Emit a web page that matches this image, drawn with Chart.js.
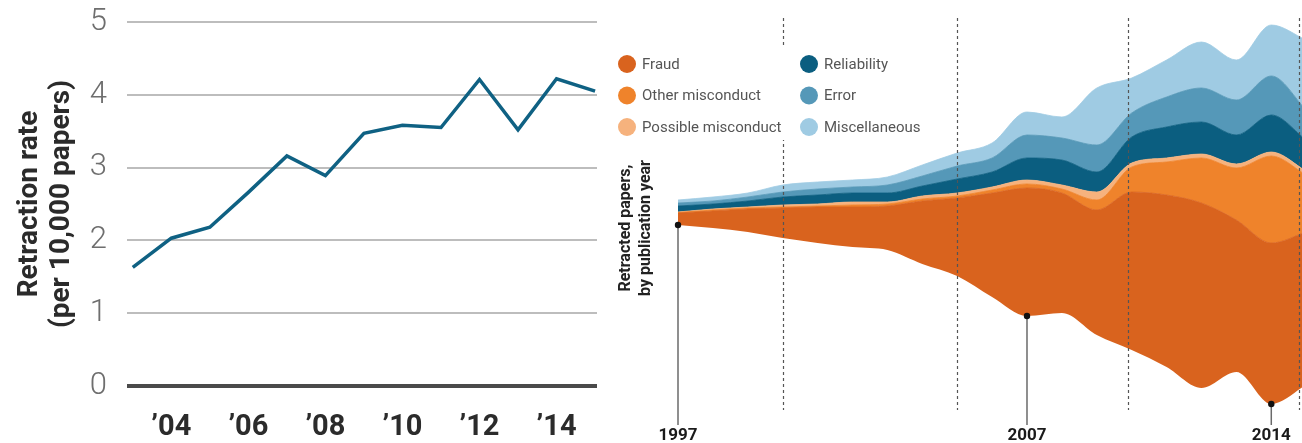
<!DOCTYPE html>
<html>
<head>
<meta charset="utf-8">
<script src="https://cdn.jsdelivr.net/npm/chart.js@4.4.1/dist/chart.umd.min.js"></script>
<style>
  body { margin: 0; background: #fff; }
  #rate { position: absolute; left: 0; top: 0; }
  #stream { position: absolute; left: 600px; top: 0; }
</style>
</head>
<body>
<canvas id="rate" width="600" height="443"></canvas>
<canvas id="stream" width="702" height="443"></canvas>
<script>
const narrow = '"Liberation Sans Narrow", "Roboto", sans-serif';

// left panel: retraction rate per 10,000 papers
const rateYears = [2003, 2004, 2005, 2006, 2007, 2008, 2009, 2010, 2011, 2012, 2013, 2014, 2015];
const rateValues = [1.63, 2.03, 2.18, 2.66, 3.16, 2.89, 3.47, 3.58, 3.55, 4.21, 3.52, 4.22, 4.05];
const rateTicks = [2004, 2006, 2008, 2010, 2012, 2014];

// right panel: retracted papers by publication year (stream layers, bottom to top)
const streamYears = [1997, 1998, 1999, 2000, 2001, 2002, 2003, 2004, 2005, 2006, 2007, 2008, 2009, 2010, 2011, 2012, 2013, 2014, 2015];
const baseline    = [195, 192, 188, 182, 177, 173, 170, 156, 144, 123, 104, 107, 85, 70, 53, 32, 48, 16, 35];
const fraud       = [12, 17, 23, 30, 36, 40, 44, 63, 78, 104, 128, 120, 125, 158, 172, 185, 152, 161, 153];
const otherMisc   = [0.5, 1, 1, 1, 1, 2, 2, 2, 2, 3, 4, 4, 10, 25, 33, 45, 52, 87, 57];
const possible    = [0.5, 1, 1, 2, 2, 3, 2, 3, 3, 3, 4, 4, 8, 4, 4, 4, 4, 4, 4];
const reliability = [6, 5, 6, 8, 9, 9, 9, 10, 14, 15, 22, 25, 20, 26, 31, 32, 29, 37, 31];
const error       = [3, 3, 4, 5, 6, 6, 8, 10, 13, 14, 23, 22, 27, 24, 30, 34, 35, 39, 30];
const miscellaneous = [3, 4, 4, 7, 7, 7, 8, 11, 13, 15, 23, 21, 57, 35, 37, 46, 40, 51, 70];

const layerNames  = ['Fraud', 'Other misconduct', 'Possible misconduct', 'Reliability', 'Error', 'Miscellaneous'];
const layerColors = ['#d9631e', '#ef832b', '#f6b27d', '#0b5e80', '#5598b8', '#9fcbe3'];
const layerValues = [fraud, otherMisc, possible, reliability, error, miscellaneous];

const markerYears = [1997, 2007, 2014];
const guideYears = [2000, 2005, 2009.9, 2014.8];

function pts(xs, ys) {
  return xs.map((x, i) => ({ x: x, y: ys[i] }));
}

// drop the extra room chart.js reserves for tick labels at the ends
function noEndPadding(s) {
  s.paddingTop = 0;
  s.paddingBottom = 0;
  s.paddingLeft = 0;
  s.paddingRight = 0;
}

// ---- left chart ----
new Chart(document.getElementById('rate'), {
  type: 'line',
  data: {
    datasets: [{
      data: pts(rateYears, rateValues),
      borderColor: '#0f6183',
      borderWidth: 3.5,
      pointRadius: 0,
      tension: 0
    }]
  },
  options: {
    responsive: false,
    animation: false,
    devicePixelRatio: 1,
    layout: { padding: { top: 22, right: 3, left: 0, bottom: 0 } },
    plugins: { legend: { display: false }, tooltip: { enabled: false } },
    scales: {
      x: {
        type: 'linear', min: 2002.85, max: 2015.05,
        grid: { display: false }, border: { display: false },
        afterBuildTicks: s => { s.ticks = rateTicks.map(v => ({ value: v })); },
        afterFit: s => { s.height = 57; noEndPadding(s); },
        ticks: {
          padding: 16, color: '#2b2b2b', autoSkip: false, maxRotation: 0,
          font: { family: narrow, size: 29, weight: 'bold' },
          callback: v => '\u2019' + String(v).slice(2)
        }
      },
      y: {
        min: 0, max: 5,
        afterFit: s => { s.width = 127; noEndPadding(s); },
        border: { display: false },
        grid: {
          drawTicks: false,
          color: c => c.tick.value === 0 ? '#4a4a4a' : '#bdbdbd',
          lineWidth: c => c.tick.value === 0 ? 4 : 2
        },
        ticks: { stepSize: 1, padding: 20, color: '#6e6e6e', font: { family: narrow, size: 31, weight: '300' } },
        title: {
          display: true,
          text: ['Retraction rate', '(per 10,000 papers)'],
          color: '#2b2b2b',
          font: { family: narrow, size: 28, weight: 'bold', lineHeight: 1.15 },
          padding: { top: 14, bottom: 0 }
        }
      }
    }
  }
});

// ---- right chart (streamgraph) ----
const streamDecor = {
  id: 'streamDecor',
  afterDatasetsDraw(chart) {
    const ctx = chart.ctx;
    const xs = chart.scales.x, ys = chart.scales.y;
    ctx.save();
    // dashed guide lines
    ctx.strokeStyle = '#555';
    ctx.lineWidth = 1.2;
    ctx.setLineDash([3, 3]);
    guideYears.forEach(g => {
      const x = Math.round(xs.getPixelForValue(g)) + 0.5;
      ctx.beginPath();
      ctx.moveTo(x, 18);
      ctx.lineTo(x, 410);
      ctx.stroke();
    });
    ctx.setLineDash([]);
    // legend box
    ctx.fillStyle = '#fff';
    ctx.fillRect(8, 46, 322, 94);
    ctx.font = '15px ' + narrow;
    ctx.textBaseline = 'middle';
    ctx.textAlign = 'left';
    layerNames.forEach((name, i) => {
      const col = Math.floor(i / 3), row = i % 3;
      const cx = 27 + col * 182, cy = 64 + row * 31.5;
      ctx.fillStyle = layerColors[i];
      ctx.beginPath();
      ctx.arc(cx, cy, 9, 0, Math.PI * 2);
      ctx.fill();
      ctx.fillStyle = '#555';
      ctx.fillText(name, cx + 15, cy + 1);
    });
    // axis title
    ctx.save();
    ctx.translate(33, 228);
    ctx.rotate(-Math.PI / 2);
    ctx.fillStyle = '#222';
    ctx.font = 'bold 16px ' + narrow;
    ctx.textAlign = 'center';
    ctx.fillText('Retracted papers,', 0, -7);
    ctx.fillText('by publication year', 0, 13);
    ctx.restore();
    // year markers
    markerYears.forEach(yr => {
      const i = streamYears.indexOf(yr);
      const x = xs.getPixelForValue(yr);
      const y = ys.getPixelForValue(baseline[i]);
      ctx.strokeStyle = '#6a6a6a';
      ctx.lineWidth = 1.5;
      ctx.beginPath();
      ctx.moveTo(x, y);
      ctx.lineTo(x, 425);
      ctx.stroke();
      ctx.fillStyle = '#111';
      ctx.beginPath();
      ctx.arc(x, y, 3.2, 0, Math.PI * 2);
      ctx.fill();
      ctx.fillStyle = '#1a1a1a';
      ctx.font = 'bold 17px ' + narrow;
      ctx.textAlign = 'center';
      ctx.fillText(String(yr), x, 436);
    });
    ctx.restore();
  }
};

const streamSets = [{
  data: pts(streamYears, baseline),
  borderWidth: 0,
  borderColor: 'rgba(0,0,0,0)',
  pointRadius: 0,
  fill: false,
  cubicInterpolationMode: 'monotone'
}];
layerValues.forEach((vals, i) => {
  streamSets.push({
    label: layerNames[i],
    data: pts(streamYears, vals),
    backgroundColor: layerColors[i],
    borderColor: layerColors[i],
    borderWidth: 0.8,
    pointRadius: 0,
    fill: '-1',
    cubicInterpolationMode: 'monotone'
  });
});

new Chart(document.getElementById('stream'), {
  type: 'line',
  data: { datasets: streamSets },
  options: {
    responsive: false,
    animation: false,
    devicePixelRatio: 1,
    layout: { padding: { top: 10, right: 0, left: 78, bottom: 23 } },
    plugins: { legend: { display: false }, tooltip: { enabled: false } },
    scales: {
      x: { type: 'linear', min: 1997, max: 2014.88, display: false },
      y: { stacked: true, min: 0, max: 410, display: false }
    }
  },
  plugins: [streamDecor]
});
</script>
</body>
</html>
